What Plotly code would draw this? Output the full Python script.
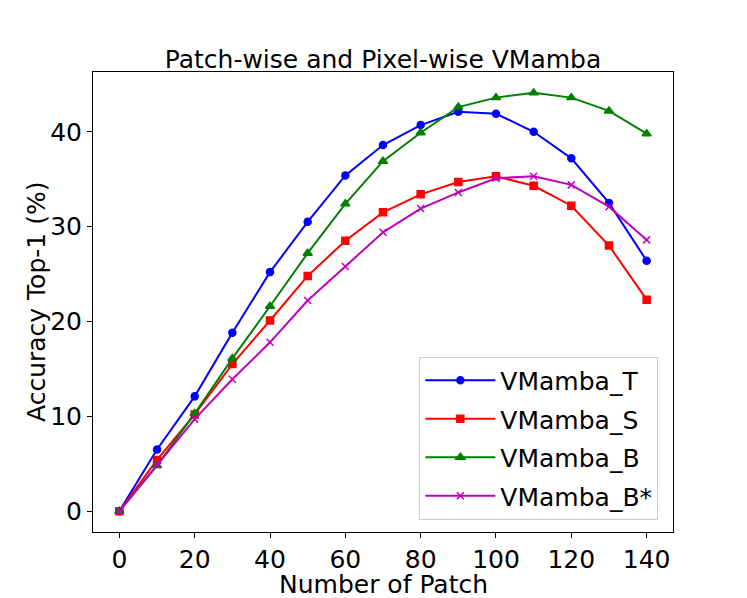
import plotly.graph_objects as go

patches = [0, 10, 20, 30, 40, 50, 60, 70, 80, 90, 100, 110, 120, 130, 140]

vmamba_t = [0, 6.5, 12.1, 18.8, 25.2, 30.5, 35.4, 38.6, 40.7, 42.1, 41.9, 40.0, 37.2, 32.5, 26.4]
vmamba_s = [0, 5.4, 10.2, 15.5, 20.1, 24.8, 28.5, 31.5, 33.4, 34.7, 35.3, 34.3, 32.2, 28.0, 22.3]
vmamba_b = [0, 4.8, 10.3, 16.1, 21.6, 27.2, 32.4, 36.9, 39.9, 42.6, 43.6, 44.1, 43.6, 42.2, 39.8]
vmamba_b_star = [0, 4.9, 9.7, 13.9, 17.8, 22.2, 25.8, 29.4, 31.9, 33.6, 35.1, 35.3, 34.4, 32.1, 28.6]

series = [
    ("VMamba_T", vmamba_t, "#0000ff", "circle", 7),
    ("VMamba_S", vmamba_s, "#ff0000", "square", 7),
    ("VMamba_B", vmamba_b, "#008000", "triangle-up", 8),
    ("VMamba_B*", vmamba_b_star, "#bf00bf", "x-thin", 7),
]

font = "DejaVu Sans"
fsize = 25
black_font = dict(family=font, size=fsize, color="black")

fig = go.Figure()
for name, vals, color, symbol, size in series:
    fig.add_trace(go.Scatter(
        x=patches, y=vals, name=name, legendgroup=name,
        mode="lines+markers",
        line=dict(color=color, width=2),
        marker=dict(symbol=symbol, size=size, color=color,
                    line=dict(color=color, width=1.5)),
    ))

axis_style = dict(
    showline=True, linecolor="black", linewidth=1, mirror=True,
    ticks="outside", ticklen=5, tickcolor="black", tickwidth=1,
    showgrid=False, zeroline=False,
    tickfont=black_font,
)

fig.update_xaxes(range=[-7, 147], tickvals=[0, 20, 40, 60, 80, 100, 120, 140], **axis_style)
fig.update_yaxes(range=[-2.2, 46.3], tickvals=[0, 10, 20, 30, 40], **axis_style)

# axis titles as annotations so they sit where the reference has them
fig.add_annotation(text="Number of Patch", xref="paper", yref="paper", x=0.5, y=0,
                   yshift=-52, xanchor="center", yanchor="middle",
                   showarrow=False, font=black_font)
fig.add_annotation(text="Accuracy Top-1 (%)", xref="paper", yref="paper", x=0, y=0.5,
                   xshift=-57, textangle=-90, xanchor="center", yanchor="middle",
                   showarrow=False, font=black_font)

# page body adds an 8px offset, so margins are shifted to compensate
fig.update_layout(
    width=747, height=598,
    margin=dict(l=85, r=82, t=64, b=74),
    plot_bgcolor="white", paper_bgcolor="white",
    title=dict(text="Patch-wise and Pixel-wise VMamba", x=0.5, xref="paper",
               y=1, yref="paper", yanchor="bottom", pad=dict(b=4),
               font=black_font),
    legend=dict(x=0.5627, y=0.027, xanchor="left", yanchor="bottom",
                bordercolor="#cccccc", borderwidth=1, bgcolor="rgba(255,255,255,0.8)",
                font=black_font,
                itemwidth=70, tracegroupgap=3, traceorder="grouped"),
    showlegend=True,
)

fig.write_html("out.html")
